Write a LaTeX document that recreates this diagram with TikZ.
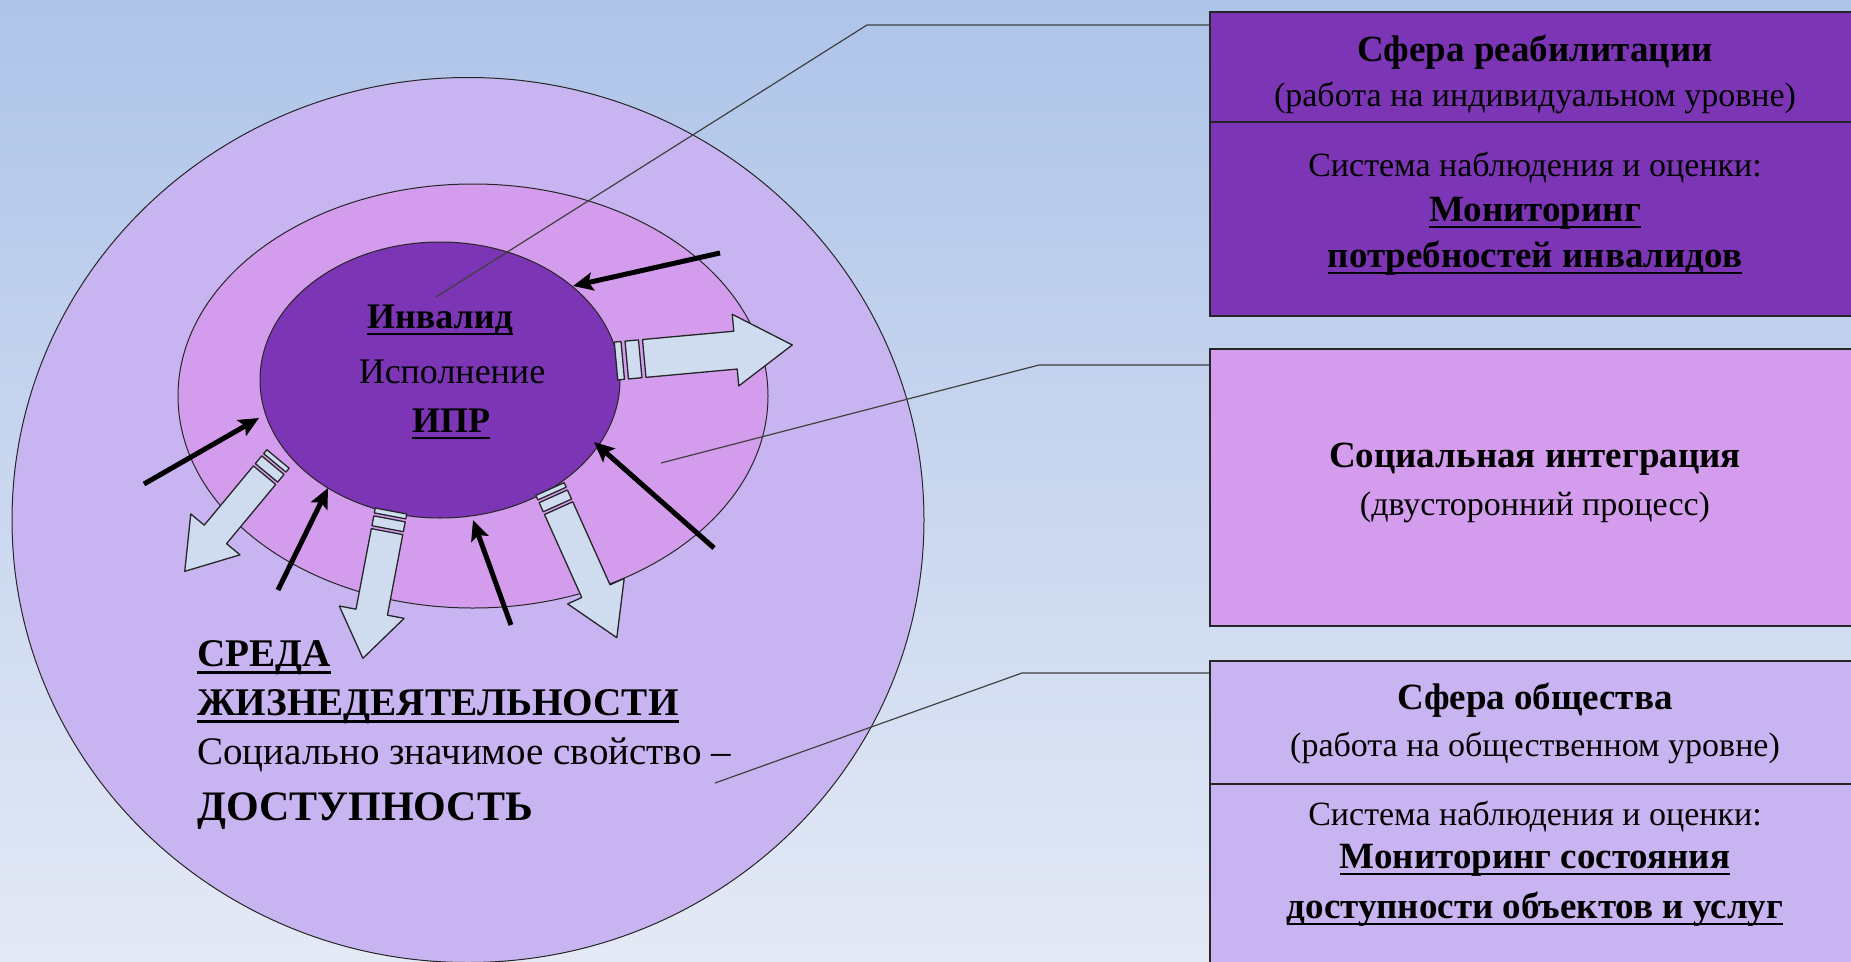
\documentclass[tikz,border=0pt]{standalone}
\usepackage{fontspec}
\setmainfont{Liberation Serif}
\usetikzlibrary{shapes.geometric,arrows.meta}
\definecolor{bgtop}{HTML}{AEC4E9}
\definecolor{bgbot}{HTML}{E4E9F5}
\definecolor{lav}{HTML}{C8B4F0}
\definecolor{pinkv}{HTML}{D49CEC}
\definecolor{purp}{HTML}{7B35B5}
\definecolor{bafill}{HTML}{CFDCF0}
\newcommand\ulbox[1]{\setbox0\hbox{#1}\leavevmode\rlap{\rule[-0.2em]{\wd0}{0.075em}}\box0}
\newcommand\fntR{\fontsize{34}{40}\selectfont}
\newcommand\fntB{\fontsize{37}{44}\selectfont\bfseries}
\newcommand\fntIR{\fontsize{36}{42}\selectfont}
\newcommand\fntIB{\fontsize{36}{42}\selectfont\bfseries}
\newcommand\fntLR{\fontsize{39}{46}\selectfont}
\newcommand\fntLB{\fontsize{39.2}{48}\selectfont\bfseries}
\newcommand\fntLBB{\fontsize{42}{50}\selectfont\bfseries}
% block arrow: x y angle length halfbody halfhead headlen stripescale
\newcommand\blockarrow[8]{%
  \begin{scope}[shift={(#1,#2)},rotate=#3]
    \draw[barrow] (0,-#5) rectangle (5*#8,#5);
    \draw[barrow] (8*#8,-#5) rectangle (18*#8,#5);
    \draw[barrow] (21*#8,-#5) -- (#4-#7,-#5) -- (#4-#7,-#6) -- (#4,0)
      -- (#4-#7,#6) -- (#4-#7,#5) -- (21*#8,#5) -- cycle;
  \end{scope}}
\begin{document}
\begin{tikzpicture}[x=1pt,y=-1pt,
  ring/.style={ellipse,draw=black!85,line width=1pt,inner sep=0pt},
  panel/.style={rectangle,draw=black!85,line width=2pt,inner sep=0pt},
  conn/.style={draw=black!75,line width=1.2pt},
  barrow/.style={draw=black!85,line width=1.3pt,fill=bafill,line join=round},
  push/.style={line width=5pt,-{Stealth[length=20pt,width=18pt,inset=4pt]}},
  txt/.style={inner sep=0pt,anchor=base},
  ltxt/.style={inner sep=0pt,anchor=base west}]
\shade[top color=bgtop,bottom color=bgbot] (0,0) rectangle (1851,961);
\useasboundingbox (0,0) rectangle (1851,961);

% rings
\node[ring,fill=lav,minimum width=912pt,minimum height=885pt] (outer) at (468,520) {};
\node[ring,fill=pinkv,minimum width=590pt,minimum height=424pt] (middle) at (473,396) {};
\node[ring,fill=purp,minimum width=360pt,minimum height=276pt] (inner) at (440,380) {};

% panels
\node[panel,fill=purp,minimum width=650pt,minimum height=304pt] (box1) at (1535,164) {};
\node[panel,fill=pinkv,minimum width=650pt,minimum height=277pt] (box2) at (1535,487.5) {};
\node[panel,fill=lav,minimum width=650pt,minimum height=319pt] (box3) at (1535,820.5) {};
\draw[line width=2pt,draw=black!85] (1210,122) -- (1860,122);
\draw[line width=2pt,draw=black!85] (1210,784) -- (1860,784);

% connectors
\coordinate (c1s) at (436,297);
\coordinate (c1b) at (867,25);
\coordinate (c2s) at (661,463);
\coordinate (c2b) at (1039,365);
\coordinate (c3s) at (715,783);
\coordinate (c3b) at (1022,673);
\draw[conn] (c1s) -- (c1b) -- (c1b -| box1.west);
\draw[conn] (c2s) -- (c2b) -- (c2b -| box2.west);
\draw[conn] (c3s) -- (c3b) -- (c3b -| box3.west);

% block arrows
\blockarrow{616}{361}{5.2}{177}{19}{36}{57}{1.35}
\blockarrow{278}{459}{-129.7}{146}{14.5}{32}{48}{1}
\blockarrow{391}{511}{-100.8}{150}{16}{33}{47}{1}
\blockarrow{550}{489}{-65.8}{163}{15.5}{31}{51}{1}

% push arrows
\coordinate (p1t) at (720,253); \coordinate (p1h) at (573,286);
\coordinate (p2t) at (144,484); \coordinate (p2h) at (259,418);
\coordinate (p3t) at (278,590); \coordinate (p3h) at (328,488);
\coordinate (p4t) at (511,625); \coordinate (p4h) at (473,520);
\coordinate (p5t) at (714,548); \coordinate (p5h) at (594,442);
\foreach \i in {1,...,5} \draw[push] (p\i t) -- (p\i h);

% inner texts
\node[txt,font=\fntIB] (inv) at (440,328) {\ulbox{Инвалид}};
\node[txt,font=\fntIR] (isp) at (452,383) {Исполнение};
\node[txt,font=\fntIB] (ipr) at (451,432) {\ulbox{ИПР}};

% environment texts
\node[ltxt,font=\fntLB] (sr1) at (197,666) {\ulbox{СРЕДА}};
\node[ltxt,font=\fntLB] (sr2) at (197,715) {\ulbox{ЖИЗНЕДЕЯТЕЛЬНОСТИ}};
\node[ltxt,font=\fntLR] (sr3) at (197,764) {Социально значимое свойство –};
\node[ltxt,font=\fntLBB] (sr4) at (197,820) {ДОСТУПНОСТЬ};

% box texts
\node[txt,font=\fntB] (b1t1) at (1535,61) {Сфера реабилитации};
\node[txt,font=\fntR] (b1t2) at (1535,106) {(работа на индивидуальном уровне)};
\node[txt,font=\fntR] (b1t3) at (1535,176) {Система наблюдения и оценки:};
\node[txt,font=\fntB] (b1t4) at (1535,221) {\ulbox{Мониторинг}};
\node[txt,font=\fntB] (b1t5) at (1535,267) {\ulbox{потребностей инвалидов}};

\node[txt,font=\fntB] (b2t1) at (1535,467) {Социальная интеграция};
\node[txt,font=\fntR] (b2t2) at (1535,515) {(двусторонний процесс)};

\node[txt,font=\fntB] (b3t1) at (1535,709) {Сфера общества};
\node[txt,font=\fntR] (b3t2) at (1535,756) {(работа на общественном уровне)};
\node[txt,font=\fntR] (b3t3) at (1535,825) {Система наблюдения и оценки:};
\node[txt,font=\fntB] (b3t4) at (1535,868) {\ulbox{Мониторинг состояния}};
\node[txt,font=\fntB] (b3t5) at (1535,918) {\ulbox{доступности объектов и услуг}};
\end{tikzpicture}
\end{document}
